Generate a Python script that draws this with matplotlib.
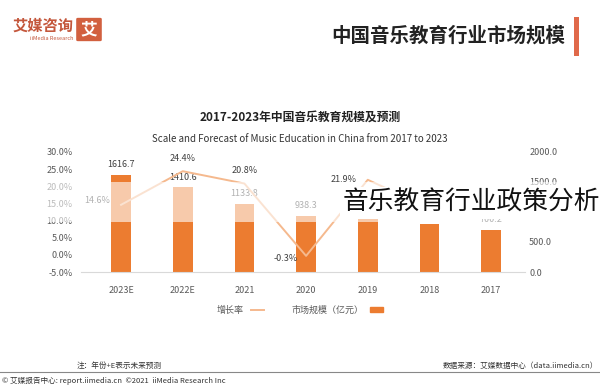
import matplotlib
matplotlib.use("Agg")
import matplotlib.pyplot as plt
from matplotlib.patches import Rectangle, FancyBboxPatch, Patch
from matplotlib.lines import Line2D
import numpy as np

plt.rcParams['font.family'] = ['Noto Sans CJK SC', 'DejaVu Sans']

years = ['2017', '2018', '2019', '2020', '2021', '2022E', '2023E']
scale = [700.2, 795.3, 941.1, 938.3, 1133.8, 1410.6, 1616.7]
growth = [None, 13.6, 21.9, -0.3, 20.8, 24.4, 14.6]

bar_color = '#ec7c30'
line_color = '#f5b98e'
txt = '#404040'

fig = plt.figure(figsize=(6, 3.9), dpi=100)

def fx(px):
    return px / 600

def fy(py):
    return 1 - py / 390

ax = fig.add_axes([fx(81), fy(272), fx(525) - fx(81), fy(152) - fy(272)])
x = np.arange(len(years))

ax.bar(x, scale, width=0.32, color=bar_color, zorder=2)
for xi, v in zip(x, scale):
    ax.annotate(f'{v:.1f}', (xi, v), xytext=(0, 4), textcoords='offset points',
                ha='center', va='bottom', fontsize=6.5, color=txt)
ax.set_ylim(0, 2000)
ax.set_yticks([0, 500, 1000, 1500, 2000])
ax.set_yticklabels([f'{t:.1f}' for t in [0, 500, 1000, 1500, 2000]])
ax.set_xlim(6.65, -0.55)
ax.set_xticks(x)
ax.set_xticklabels(years)
for s in ['top', 'left', 'right']:
    ax.spines[s].set_visible(False)
ax.spines['bottom'].set_color('#d9d9d9')

ax2 = ax.twinx()
ax.yaxis.tick_right()
ax.tick_params(axis='x', length=0, labelsize=6.5, labelcolor='#595959', pad=10)
ax.tick_params(axis='y', length=0, labelsize=6.5, labelcolor='#595959', pad=3)

gx = [xi for xi, g in zip(x, growth) if g is not None]
gy = [g for g in growth if g is not None]
ax2.plot(gx, gy, color=line_color, lw=1.4, zorder=3)
offsets = {1: (-8, 2), 2: (-8, 0), 3: (-6, -2), 4: (0, 6), 5: (0, 6), 6: (-8, 3)}
for xi, g in zip(gx, gy):
    dx, dy = offsets[xi]
    ha = 'center' if dx == 0 else 'right'
    ax2.annotate(f'{g:.1f}%', (xi, g), xytext=(dx, dy), textcoords='offset points',
                 ha=ha, va='bottom' if dx == 0 else 'center', fontsize=6.5, color=txt)
ax2.set_ylim(-5, 30)
ax2.set_yticks(np.arange(-5, 31, 5))
ax2.set_yticklabels([f'{t:.1f}%' for t in np.arange(-5, 31, 5)])
ax2.yaxis.tick_left()
ax2.tick_params(length=0, labelsize=6.5, labelcolor='#595959', pad=6)
for s in ['top', 'left', 'right', 'bottom']:
    ax2.spines[s].set_visible(False)
ax2.set_xlim(6.65, -0.55)

# legend (marker after text)
handles = [Line2D([], [], color=line_color, lw=1.4), Patch(color=bar_color)]
fig.legend(handles, ['增长率', '市场规模（亿元）'], loc='center', bbox_to_anchor=(fx(300), fy(310)),
           ncol=2, frameon=False, fontsize=6.5, markerfirst=False, handlelength=1.4,
           handleheight=0.6, columnspacing=3, labelcolor='#595959')

# washed band over the chart
fig.patches.append(Rectangle((fx(40), fy(222)), fx(560) - fx(40), fy(182) - fy(222),
                             transform=fig.transFigure, color='white', alpha=0.6, lw=0, zorder=5))

# header
fig.text(fx(565), fy(36), '中国音乐教育行业市场规模', ha='right', va='center', fontsize=14,
         weight='bold', color='#222222')
fig.patches.append(Rectangle((fx(574), fy(56)), fx(5), fy(17) - fy(56),
                             transform=fig.transFigure, color='#e0694a', lw=0))
fig.patches.append(FancyBboxPatch((fx(78), fy(40)), fx(22), fy(19) - fy(40),
                                  boxstyle='round,pad=0.003', transform=fig.transFigure,
                                  color='#d2603f', lw=0))
fig.text(fx(89), fy(29.5), '艾', ha='center', va='center', fontsize=12, weight='bold', color='white')
fig.text(fx(74), fy(26), '艾媒咨询', ha='right', va='center', fontsize=11, weight='bold', color='#c4573c')
fig.text(fx(74), fy(38), 'iiMedia Research', ha='right', va='center', fontsize=4, color='#c4573c')

fig.text(0.5, fy(117), '2017-2023年中国音乐教育规模及预测', ha='center', va='center',
         fontsize=8.5, weight='bold', color='#222222')
fig.text(0.5, fy(139), 'Scale and Forecast of Music Education in China from 2017 to 2023',
         ha='center', va='center', fontsize=7, color='#333333')

# footer
fig.text(fx(77), fy(366), '注：年份+E表示未来预测', ha='left', va='center', fontsize=5.5, color='#333333')
fig.text(fx(598), fy(366), '数据来源：艾媒数据中心（data.iimedia.cn）', ha='right', va='center',
         fontsize=5.5, color='#333333')
fig.add_artist(Line2D([0, 1], [fy(372), fy(372)], transform=fig.transFigure, color='#888888', lw=0.8))
fig.text(fx(2), fy(381), '© 艾媒报告中心: report.iimedia.cn  ©2021  iiMedia Research Inc',
         ha='left', va='center', fontsize=5.5, color='#333333')

# overlay caption
fig.text(fx(343), fy(203), '音乐教育行业政策分析', ha='left', va='center', fontsize=18.5,
         color='#111111', zorder=10,
         bbox=dict(facecolor='white', edgecolor='none', pad=2))

fig.savefig('out.png', dpi=100, facecolor='white')
